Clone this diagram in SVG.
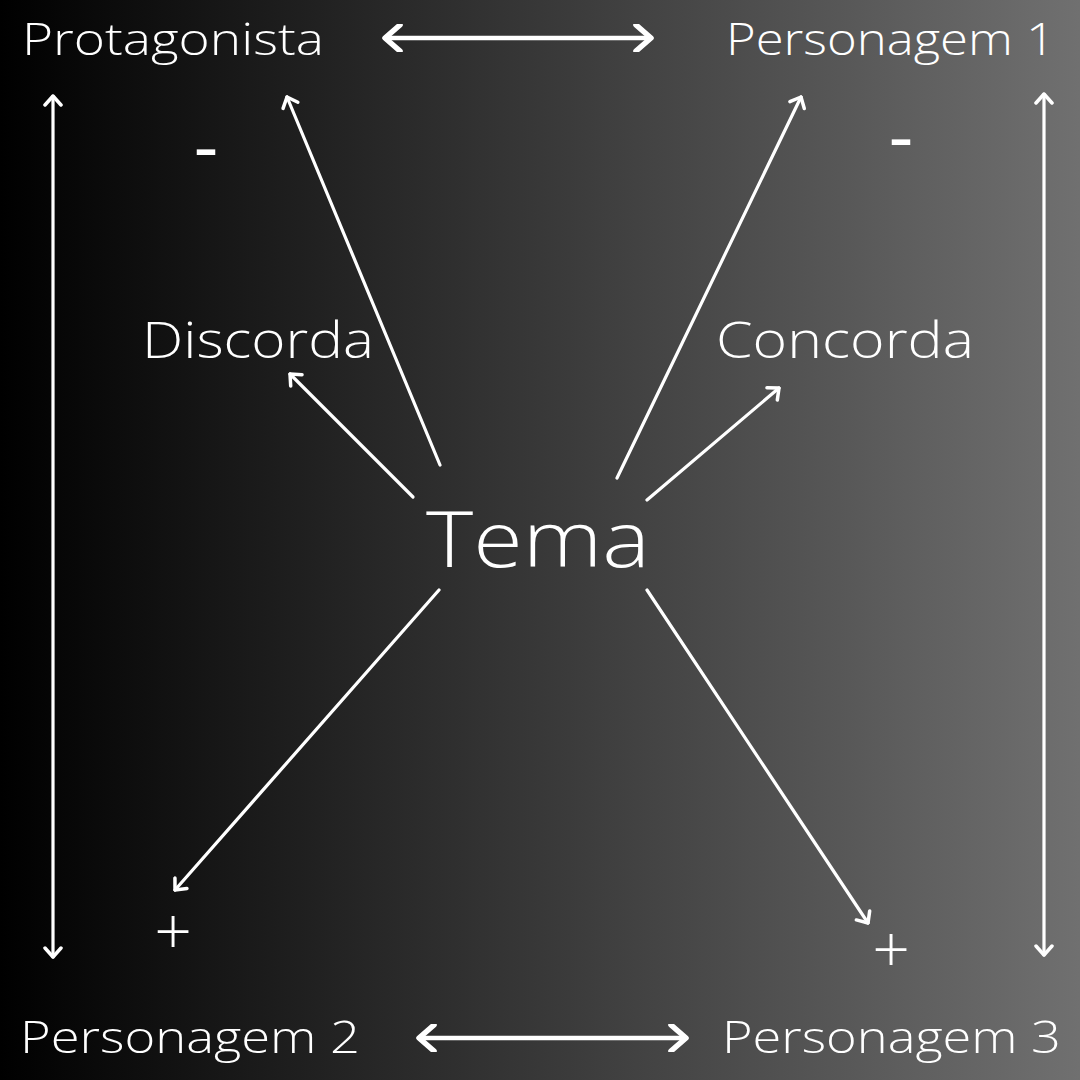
<svg xmlns="http://www.w3.org/2000/svg" width="1080" height="1080" viewBox="0 0 1080 1080">
<defs>
<linearGradient id="bg" x1="0" y1="0" x2="1" y2="0">
<stop offset="0" stop-color="#000000"/>
<stop offset="1" stop-color="#707070"/>
</linearGradient>
<marker id="ah" viewBox="-12 -10 14 20" refX="0" refY="0" markerWidth="14" markerHeight="20" markerUnits="userSpaceOnUse" orient="auto-start-reverse">
<path d="M-9,-8 L0,0 L-9,8" fill="none" stroke="#fff" stroke-width="3.5" stroke-linecap="round" stroke-linejoin="round"/>
</marker>
<marker id="ahb" viewBox="-20 -14 23 28" refX="0" refY="0" markerWidth="23" markerHeight="28" markerUnits="userSpaceOnUse" orient="auto-start-reverse">
<path d="M-15,-13 L0,0 L-15,13" fill="none" stroke="#fff" stroke-width="5.5" stroke-linecap="round" stroke-linejoin="round"/>
</marker>
<style>
text{font-family:"Open Sans","Liberation Sans",sans-serif;fill:#fff;font-weight:300}
.lbl{font-size:45px}
.mid{font-size:50px}
.big{font-size:78px}
.sign{font-size:66px}
.dash{font-size:76px;font-weight:400}
.c{fill:none;stroke:#fff;stroke-width:3.2;stroke-linecap:round}
.h{fill:none;stroke:#fff;stroke-width:4.5;stroke-linecap:round}
</style>
</defs>
<rect width="1080" height="1080" fill="url(#bg)"/>
<g id="connectors">
<line class="h" x1="385" y1="38" x2="651" y2="38" marker-start="url(#ahb)" marker-end="url(#ahb)"/>
<line class="h" x1="419" y1="1038" x2="686" y2="1038" marker-start="url(#ahb)" marker-end="url(#ahb)"/>
<line class="c" x1="53" y1="96" x2="53" y2="957" marker-start="url(#ah)" marker-end="url(#ah)"/>
<line class="c" x1="1044" y1="94" x2="1044" y2="955" marker-start="url(#ah)" marker-end="url(#ah)"/>
<line class="c" x1="440" y1="465" x2="287" y2="97" marker-end="url(#ah)"/>
<line class="c" x1="617" y1="478" x2="801" y2="97" marker-end="url(#ah)"/>
<line class="c" x1="413" y1="497" x2="290" y2="374" marker-end="url(#ah)"/>
<line class="c" x1="647" y1="500" x2="779" y2="388" marker-end="url(#ah)"/>
<line class="c" x1="439" y1="590" x2="175" y2="890" marker-end="url(#ah)"/>
<line class="c" x1="647" y1="590" x2="868" y2="923" marker-end="url(#ah)"/>
</g>
<g id="tema"><text class="big" x="426" y="567" textLength="224" lengthAdjust="spacingAndGlyphs">Tema</text></g>
<g id="protagonista"><text class="lbl" x="22" y="55" textLength="302" lengthAdjust="spacingAndGlyphs">Protagonista</text></g>
<g id="personagem1"><text class="lbl" x="726" y="55" textLength="329" lengthAdjust="spacingAndGlyphs">Personagem 1</text></g>
<g id="personagem2"><text class="lbl" x="20" y="1053" textLength="340" lengthAdjust="spacingAndGlyphs">Personagem 2</text></g>
<g id="personagem3"><text class="lbl" x="722" y="1053" textLength="339" lengthAdjust="spacingAndGlyphs">Personagem 3</text></g>
<g id="discorda"><text class="mid" x="142" y="358" textLength="232" lengthAdjust="spacingAndGlyphs">Discorda</text></g>
<g id="concorda"><text class="mid" x="716" y="358" textLength="258" lengthAdjust="spacingAndGlyphs">Concorda</text></g>
<g id="minus-left"><text class="dash" x="206" y="173" text-anchor="middle">-</text></g>
<g id="minus-right"><text class="dash" x="901" y="163" text-anchor="middle">-</text></g>
<g id="plus-left"><text class="sign" x="173" y="955" text-anchor="middle">+</text></g>
<g id="plus-right"><text class="sign" x="891" y="973" text-anchor="middle">+</text></g>
</svg>
